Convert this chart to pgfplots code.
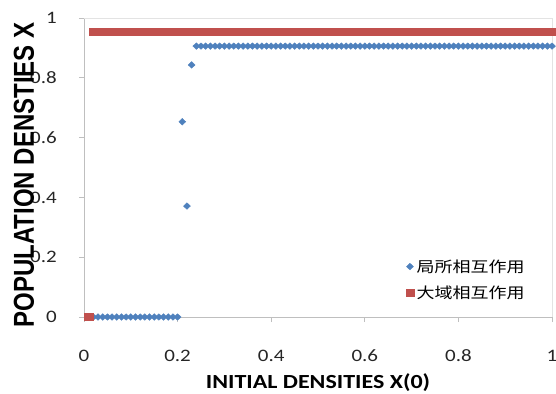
\documentclass[border=0pt]{standalone}
\usepackage{pgfplots}
\pgfplotsset{compat=1.18}
\usepackage{fontspec}
\setmainfont{Carlito}
\newfontfamily\arialbf{Liberation Sans}[BoldFont={* Bold}]
\newfontfamily\cjk{Noto Sans CJK JP}
\usetikzlibrary{calc}
\definecolor{xlblue}{HTML}{4F81BD}
\definecolor{xlred}{HTML}{C0504D}
\definecolor{axgray}{HTML}{BFBFBF}
\definecolor{brdgray}{HTML}{E3E3E3}
\begin{document}
\begin{tikzpicture}
\begin{axis}[
  name=ax,
  scale only axis,
  width=468bp, height=299bp,
  xmin=0, xmax=1, ymin=0, ymax=1,
  axis lines*=left,
  axis line style={draw=axgray, line width=0.8bp},
  tick align=outside,
  major tick length=5bp,
  tick style={draw=axgray, line width=0.8bp},
  xtick={0,0.2,0.4,0.6,0.8,1},
  ytick={0,0.2,0.4,0.6,0.8,1},
  xticklabels={0,0.2,0.4,0.6,0.8,1},
  yticklabels={0,0.2,0.4,0.6,0.8,1},
  xticklabel style={font=\fontsize{17.5bp}{20bp}\selectfont, text=black!85, xscale=1.2, anchor=base, yshift=-39bp},
  yticklabel style={font=\fontsize{17.5bp}{20bp}\selectfont, text=black!85, xscale=1.2, anchor=east, xshift=-15bp},
  every axis x label/.style={at={(rel axis cs:0.5,0)}, yshift=-71bp, xscale=1.2, anchor=base,
     font=\fontsize{20bp}{24bp}\selectfont\bfseries},
  every axis y label/.style={at={(rel axis cs:0,0.475)}, xshift=-50bp, rotate=90, yscale=1.2, anchor=base,
     font=\fontsize{24bp}{28bp}\arialbf\bfseries},
  xlabel={INITIAL DENSITIES X(0)},
  ylabel={POPULATION DENSTIES X},
  legend style={draw=none, fill=none, at={(axis cs:0.817,0.125)}, anchor=center,
     font=\fontsize{15bp}{18bp}\cjk, row sep=8bp, inner sep=2bp, nodes={xscale=1.2}},
  legend cell align=left,
  legend image code/.code={\draw[#1] plot coordinates {(0bp,0bp)};},
  clip=false,
]
\addplot[only marks, mark=diamond*, mark size=3.3bp, mark options={xscale=1.4, draw=xlblue, fill=xlblue}, color=xlblue]
coordinates {
(0.01,0)(0.02,0)(0.03,0)(0.04,0)(0.05,0)(0.06,0)(0.07,0)(0.08,0)(0.09,0)(0.10,0)
(0.11,0)(0.12,0)(0.13,0)(0.14,0)(0.15,0)(0.16,0)(0.17,0)(0.18,0)(0.19,0)(0.20,0)
(0.21,0.653)(0.22,0.371)(0.23,0.843)(0.24,0.906)(0.25,0.906)(0.26,0.906)(0.27,0.906)(0.28,0.906)(0.29,0.906)(0.30,0.906)
(0.31,0.906)(0.32,0.906)(0.33,0.906)(0.34,0.906)(0.35,0.906)(0.36,0.906)(0.37,0.906)(0.38,0.906)(0.39,0.906)(0.40,0.906)
(0.41,0.906)(0.42,0.906)(0.43,0.906)(0.44,0.906)(0.45,0.906)(0.46,0.906)(0.47,0.906)(0.48,0.906)(0.49,0.906)(0.50,0.906)
(0.51,0.906)(0.52,0.906)(0.53,0.906)(0.54,0.906)(0.55,0.906)(0.56,0.906)(0.57,0.906)(0.58,0.906)(0.59,0.906)(0.60,0.906)
(0.61,0.906)(0.62,0.906)(0.63,0.906)(0.64,0.906)(0.65,0.906)(0.66,0.906)(0.67,0.906)(0.68,0.906)(0.69,0.906)(0.70,0.906)
(0.71,0.906)(0.72,0.906)(0.73,0.906)(0.74,0.906)(0.75,0.906)(0.76,0.906)(0.77,0.906)(0.78,0.906)(0.79,0.906)(0.80,0.906)
(0.81,0.906)(0.82,0.906)(0.83,0.906)(0.84,0.906)(0.85,0.906)(0.86,0.906)(0.87,0.906)(0.88,0.906)(0.89,0.906)(0.90,0.906)
(0.91,0.906)(0.92,0.906)(0.93,0.906)(0.94,0.906)(0.95,0.906)(0.96,0.906)(0.97,0.906)(0.98,0.906)(0.99,0.906)(1.00,0.906)
};
\addlegendentry{局所相互作用}
\addplot[only marks, mark=square*, mark size=3.5bp, mark options={xscale=1.2, draw=xlred, fill=xlred}, color=xlred]
coordinates {
(0.01,0)(0.02,0.953)(0.03,0.953)(0.04,0.953)(0.05,0.953)(0.06,0.953)(0.07,0.953)(0.08,0.953)(0.09,0.953)(0.10,0.953)
(0.11,0.953)(0.12,0.953)(0.13,0.953)(0.14,0.953)(0.15,0.953)(0.16,0.953)(0.17,0.953)(0.18,0.953)(0.19,0.953)(0.20,0.953)
(0.21,0.953)(0.22,0.953)(0.23,0.953)(0.24,0.953)(0.25,0.953)(0.26,0.953)(0.27,0.953)(0.28,0.953)(0.29,0.953)(0.30,0.953)
(0.31,0.953)(0.32,0.953)(0.33,0.953)(0.34,0.953)(0.35,0.953)(0.36,0.953)(0.37,0.953)(0.38,0.953)(0.39,0.953)(0.40,0.953)
(0.41,0.953)(0.42,0.953)(0.43,0.953)(0.44,0.953)(0.45,0.953)(0.46,0.953)(0.47,0.953)(0.48,0.953)(0.49,0.953)(0.50,0.953)
(0.51,0.953)(0.52,0.953)(0.53,0.953)(0.54,0.953)(0.55,0.953)(0.56,0.953)(0.57,0.953)(0.58,0.953)(0.59,0.953)(0.60,0.953)
(0.61,0.953)(0.62,0.953)(0.63,0.953)(0.64,0.953)(0.65,0.953)(0.66,0.953)(0.67,0.953)(0.68,0.953)(0.69,0.953)(0.70,0.953)
(0.71,0.953)(0.72,0.953)(0.73,0.953)(0.74,0.953)(0.75,0.953)(0.76,0.953)(0.77,0.953)(0.78,0.953)(0.79,0.953)(0.80,0.953)
(0.81,0.953)(0.82,0.953)(0.83,0.953)(0.84,0.953)(0.85,0.953)(0.86,0.953)(0.87,0.953)(0.88,0.953)(0.89,0.953)(0.90,0.953)
(0.91,0.953)(0.92,0.953)(0.93,0.953)(0.94,0.953)(0.95,0.953)(0.96,0.953)(0.97,0.953)(0.98,0.953)(0.99,0.953)(1.00,0.953)
};
\addlegendentry{大域相互作用}
\draw[brdgray, line width=0.8bp] (rel axis cs:0,1) -- (rel axis cs:1,1) -- (rel axis cs:1,0);
\end{axis}
\pgfresetboundingbox
\path[use as bounding box] ($(ax.south west)+(-84bp,-77bp)$) rectangle ($(ax.north east)+(4bp,18bp)$);
\end{tikzpicture}
\end{document}
